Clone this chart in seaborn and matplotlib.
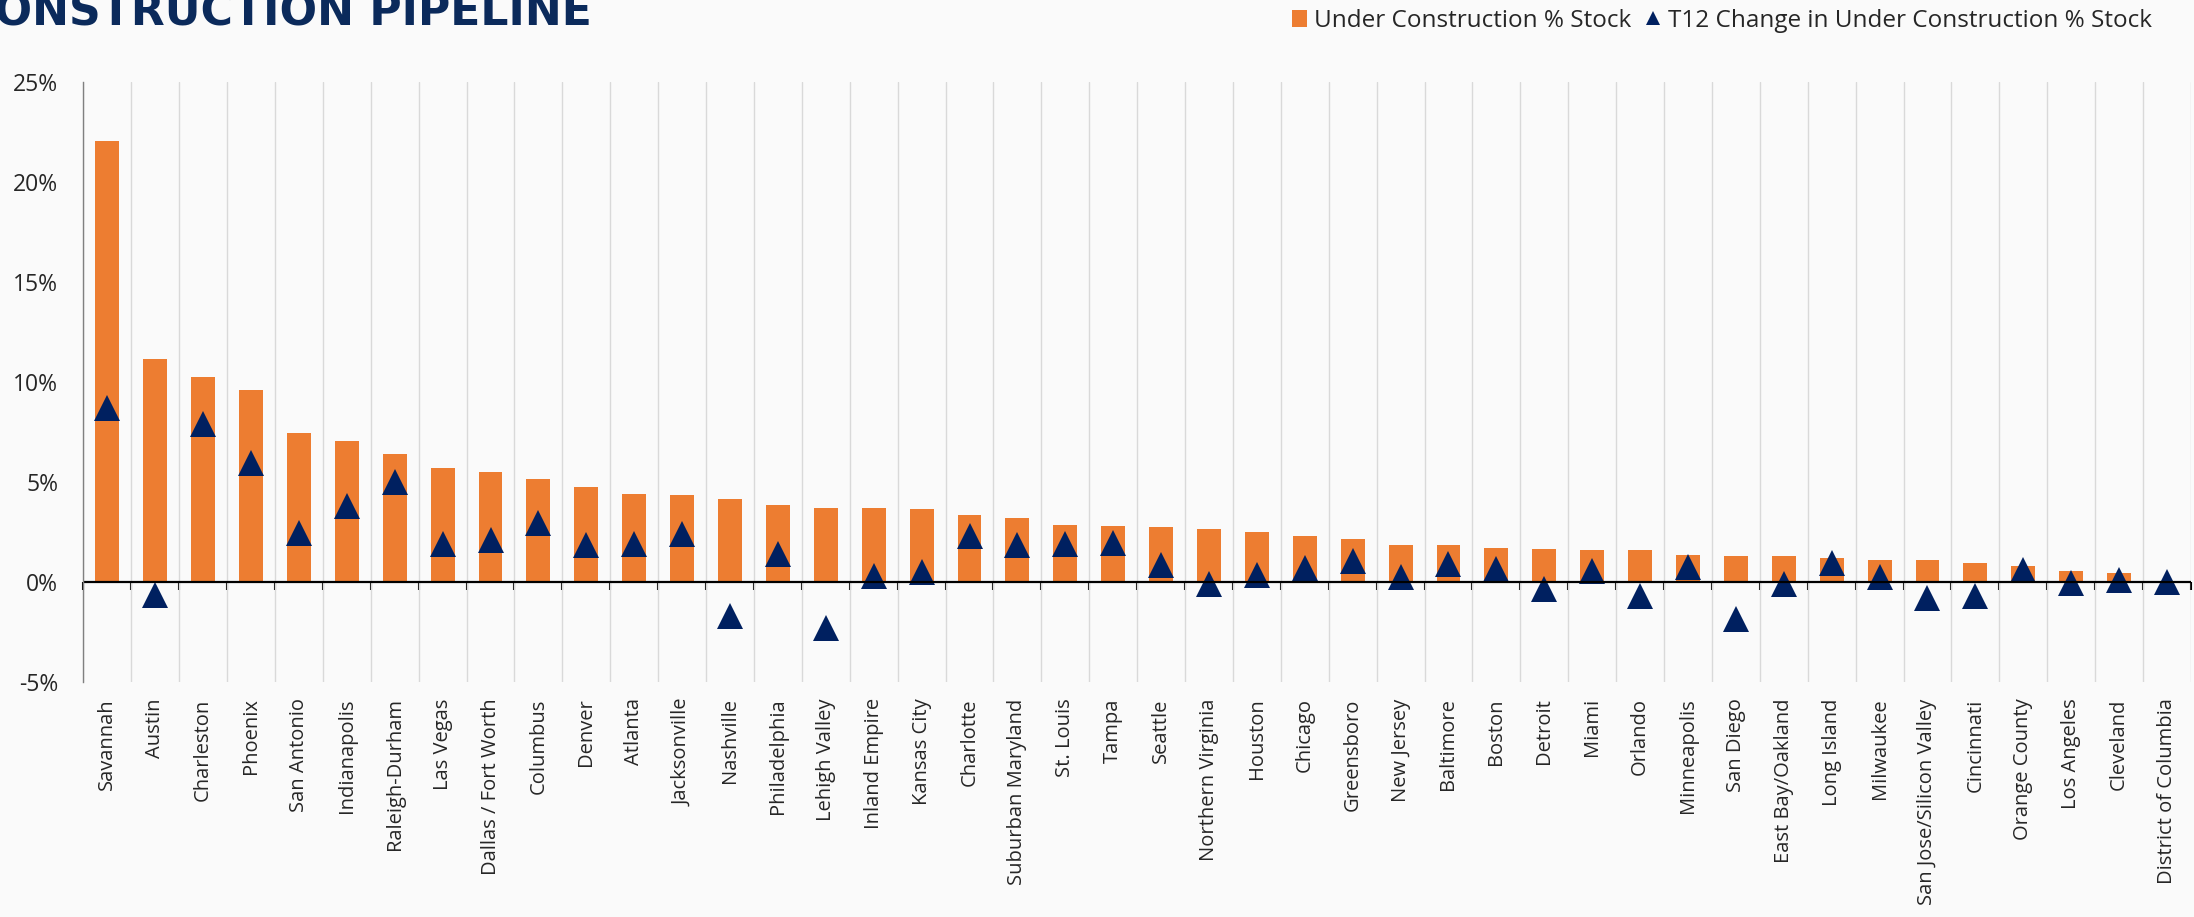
import numpy as np
import pandas as pd
import seaborn as sns
import matplotlib.pyplot as plt
from matplotlib.patches import Patch
from matplotlib.lines import Line2D
from matplotlib.ticker import FuncFormatter

markets = ["Savannah", "Austin", "Charleston", "Phoenix", "San Antonio", "Indianapolis",
           "Raleigh-Durham", "Las Vegas", "Dallas / Fort Worth", "Columbus", "Denver",
           "Atlanta", "Jacksonville", "Nashville", "Philadelphia", "Lehigh Valley",
           "Inland Empire", "Kansas City", "Charlotte", "Suburban Maryland", "St. Louis",
           "Tampa", "Seattle", "Northern Virginia", "Houston", "Chicago", "Greensboro",
           "New Jersey", "Baltimore", "Boston", "Detroit", "Miami", "Orlando",
           "Minneapolis", "San Diego", "East Bay/Oakland", "Long Island", "Milwaukee",
           "San Jose/Silicon Valley", "Cincinnati", "Orange County", "Los Angeles",
           "Cleveland", "District of Columbia"]

# under construction as % of stock
uc_pct = [22.05, 11.12, 10.24, 9.57, 7.46, 7.06, 6.40, 5.71, 5.47, 5.16, 4.75,
          4.36, 4.31, 4.12, 3.84, 3.68, 3.66, 3.61, 3.33, 3.17, 2.83,
          2.76, 2.74, 2.63, 2.48, 2.26, 2.12, 1.83, 1.81, 1.66, 1.64, 1.58, 1.58,
          1.32, 1.28, 1.28, 1.17, 1.10, 1.07, 0.92, 0.78, 0.53, 0.45, 0.0]

# trailing 12 month change
t12_chg = [8.70, -0.68, 7.88, 5.96, 2.44, 3.80, 4.97, 1.87, 2.08, 2.93, 1.83,
           1.89, 2.38, -1.72, 1.40, -2.30, 0.28, 0.50, 2.27, 1.82, 1.90,
           1.93, 0.83, -0.13, 0.33, 0.70, 1.02, 0.25, 0.87, 0.65, -0.35, 0.52, -0.72,
           0.73, -1.87, -0.12, 0.92, 0.25, -0.82, -0.71, 0.59, -0.07, 0.09, -0.04]

y_ticks = [-5, 0, 5, 10, 15, 20, 25]

df = pd.DataFrame({"market": markets, "uc": uc_pct, "chg": t12_chg})

orange = "#ED7D31"
navy = "#002060"
bg = "#FAFAFA"

sns.set_style("white")
plt.rcParams["font.family"] = ["Open Sans", "DejaVu Sans"]

fig = plt.figure(figsize=(21.94, 9.17), dpi=100, facecolor=bg)
ax = fig.add_axes([0.038, 0.2566, 0.9606, 0.6543])
ax.set_facecolor(bg)

sns.barplot(data=df, x="market", y="uc", color=orange, width=0.5,
            saturation=1, linewidth=0, ax=ax)
sns.pointplot(data=df, x="market", y="chg", color=navy, errorbar=None,
              linestyle="none", marker="^", markersize=18.5, markeredgewidth=0, ax=ax)

n = len(markets)
bounds = np.arange(-0.5, n, 1.0)
ax.set_xlim(-0.5, n - 0.5)
ax.set_ylim(-5, 25)
ax.set_yticks(y_ticks)
ax.yaxis.set_major_formatter(FuncFormatter(lambda v, p: f"{v:.0f}%"))
ax.set_xlabel("")
ax.set_ylabel("")

# vertical gridlines between categories
ax.set_xticks(bounds, minor=True)
ax.grid(which="minor", axis="x", color="#D9D9D9", linewidth=1)
ax.grid(which="major", axis="both", visible=False)
ax.set_axisbelow(True)

ax.tick_params(axis="x", which="both", length=0, pad=12)
ax.set_xticks(range(n))
ax.set_xticklabels(markets, rotation=90, fontsize=14.5, va="top", ha="center")
ax.tick_params(axis="y", which="major", length=6, width=1, color="#808080",
               direction="out", pad=12, labelsize=16.5)

for s in ["top", "right", "bottom"]:
    ax.spines[s].set_visible(False)
ax.spines["left"].set_color("#808080")
ax.spines["left"].set_linewidth(1)

# zero line with category tick marks
sec = ax.secondary_xaxis(5 / 30)
sec.set_xticks(bounds)
sec.tick_params(length=6, width=1.5, color="black", labelbottom=False, labeltop=False)
for s in sec.spines.values():
    s.set_visible(False)
ax.axhline(0, color="black", linewidth=1.6, zorder=2)

# title, cut off at the left edge as in the source page
fig.text(592 / 2194, 1 - 25 / 917, "CONSTRUCTION PIPELINE", ha="right", va="baseline",
         fontsize=31.8, fontweight="bold", color="#0B2A5B", family="DejaVu Sans")

handles = [Patch(facecolor=orange, edgecolor="none"),
           Line2D([], [], linestyle="none", marker="^", markersize=10,
                  markeredgewidth=0, color=navy)]
labels = ["Under Construction % Stock", "T12 Change in Under Construction % Stock"]
fig.legend(handles, labels, loc="center right", bbox_to_anchor=(2152 / 2194, 1 - 21 / 917),
           ncol=2, frameon=False, fontsize=17.5, handlelength=0.6, handleheight=0.75,
           handletextpad=0.3, columnspacing=0.6, borderpad=0, borderaxespad=0)

fig.savefig("out.png", dpi=100, facecolor=bg)
